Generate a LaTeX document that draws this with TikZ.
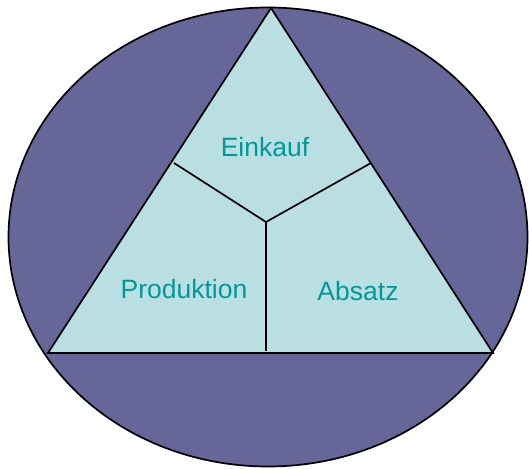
\documentclass[tikz,border=0pt]{standalone}
\usepackage{fontspec}
\setmainfont{Liberation Sans}
\definecolor{outerfill}{HTML}{666699}
\definecolor{innerfill}{HTML}{BADFE3}
\definecolor{labeltext}{HTML}{009999}
\begin{document}
\begin{tikzpicture}[x=1pt,y=1pt,
  lab/.style={text=labeltext,font=\fontsize{26.5}{30}\selectfont,inner sep=0pt},
  edge/.style={draw=black,line width=1.7pt}]
\useasboundingbox (0,0) rectangle (529,468);
\draw[edge,fill=outerfill] (268,231) ellipse [x radius=259.5, y radius=229.5];
\coordinate (apex) at (271,460);
\coordinate (bl) at (48,115);
\coordinate (br) at (493,115);
\coordinate (ctr) at (266,246);
\coordinate (jl) at (174,305);
\coordinate (jr) at (371,305);
\coordinate (jb) at (266,117);
\draw[edge,fill=innerfill,line join=miter] (apex) -- (br) -- (bl) -- cycle;
\draw[edge] (jl) -- (ctr) -- (jr);
\draw[edge] (ctr) -- (jb);
\node[lab] (einkauf) at (265,321) {Einkauf};
\node[lab] (prod) at (184,179) {Produktion};
\node[lab] (absatz) at (358,177) {Absatz};
\end{tikzpicture}
\end{document}
